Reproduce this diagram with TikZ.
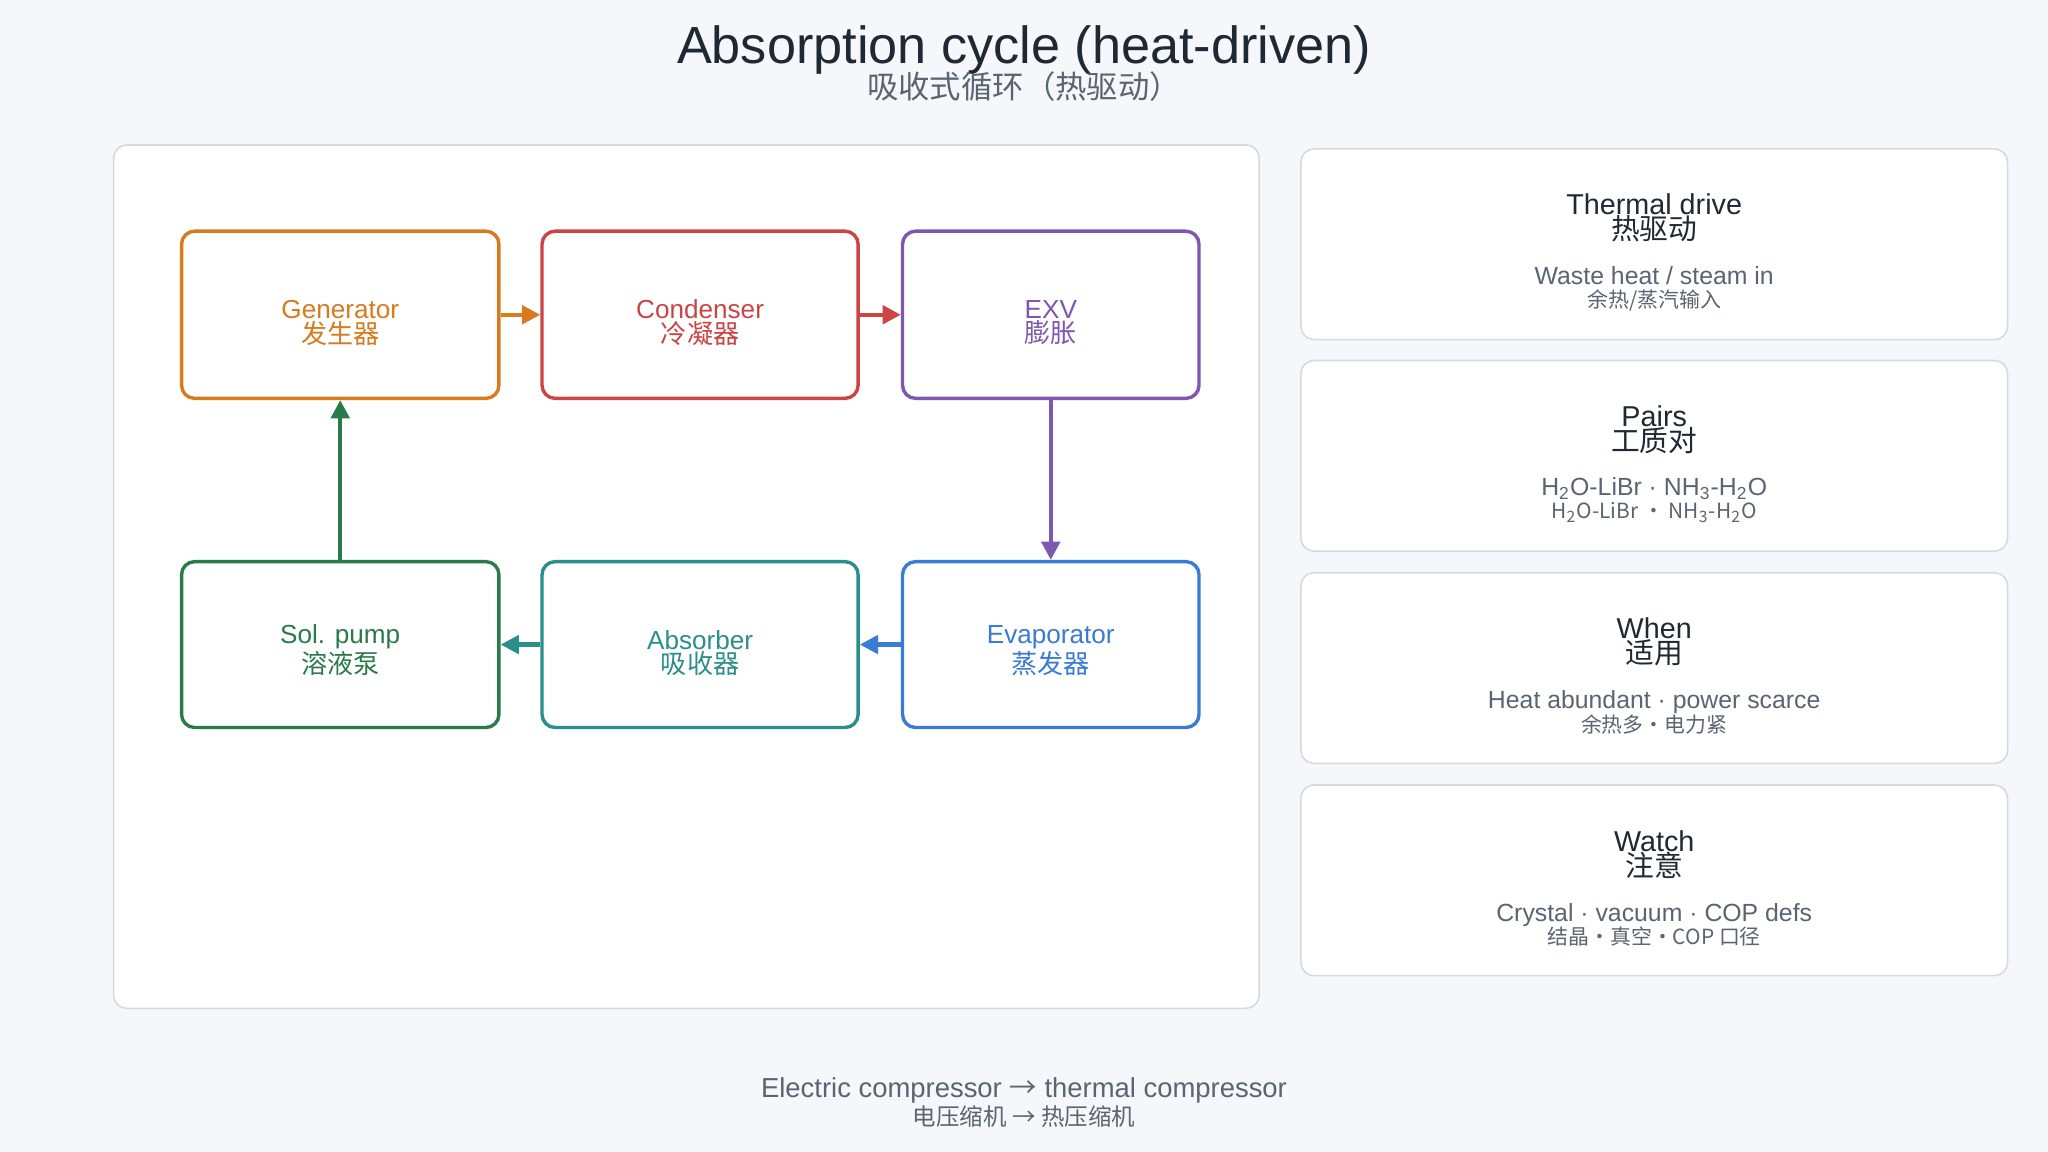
\documentclass[tikz,border=0pt]{standalone}
\usepackage{fontspec}
\setmainfont{Liberation Sans}
\newfontfamily\cjk{Noto Sans CJK SC}
\usetikzlibrary{arrows.meta}
\definecolor{bg}{HTML}{F5F7FA}
\definecolor{bd}{HTML}{D5DAE1}
\definecolor{ink}{HTML}{1F2933}
\definecolor{gr}{HTML}{5A6472}
\definecolor{cO}{HTML}{D97A1F}
\definecolor{cR}{HTML}{CC4444}
\definecolor{cP}{HTML}{7E57B0}
\definecolor{cG}{HTML}{2A7A4A}
\definecolor{cT}{HTML}{2A8F8A}
\definecolor{cB}{HTML}{3A7BD5}
\tikzset{
 box/.style={draw=#1,line width=1.3pt,rounded corners=5pt,fill=white},
 lbl/.style={text=#1,align=center,font=\fontsize{10}{9.5}\selectfont},
 card/.style={draw=bd,line width=0.6pt,rounded corners=5pt,fill=white},
 arr/.style={draw=#1,line width=1.6pt,-{Triangle[length=7pt,width=7pt]}},
}
\begin{document}
\begin{tikzpicture}[x=0.5pt,y=-0.5pt]
\path[fill=bg] (0,0) rectangle (1568,882);
\useasboundingbox (0,0) rectangle (1568,882);
\node[text=ink,font=\fontsize{20}{22}\selectfont] (t) at (784,38) {Absorption cycle (heat-driven)};
\node[text=gr,font=\cjk\fontsize{12}{14}\selectfont] (ts) at (784,66) {吸收式循环（热驱动）};
\node[card,minimum width=438.5pt,minimum height=330.5pt] (panel) at (525.5,441.5) {};
% boxes
\node[box=cO,minimum width=121.5pt,minimum height=64pt] (gen) at (260.5,241) {};
\node[box=cR,minimum width=121pt,minimum height=64pt] (con) at (536,241) {};
\node[box=cP,minimum width=113.5pt,minimum height=64pt] (exv) at (804.5,241) {};
\node[box=cG,minimum width=121.5pt,minimum height=63.5pt] (pump) at (260.5,493.5) {};
\node[box=cT,minimum width=121pt,minimum height=63.5pt] (abs) at (536,493.5) {};
\node[box=cB,minimum width=113.5pt,minimum height=63.5pt] (eva) at (804.5,493.5) {};
\node[lbl=cO] (genl) at (260.5,247) {Generator\\{\cjk 发生器}};
\node[lbl=cR] (conl) at (536,247) {Condenser\\{\cjk 冷凝器}};
\node[lbl=cP] (exvl) at (804.5,247) {EXV\\{\cjk 膨胀}};
\node[lbl=cG] (pumpl) at (260.5,498) {Sol. pump\\{\cjk 溶液泵}};
\node[lbl=cT] (absl) at (536,500) {Absorber\\{\cjk 吸收器}};
\node[lbl=cB] (eval) at (804.5,498) {Evaporator\\{\cjk 蒸发器}};
\draw[arr=cO] (gen) -- (con);
\draw[arr=cR] (con) -- (exv);
\draw[arr=cP] (exv) -- (eva);
\draw[arr=cB] (eva) -- (abs);
\draw[arr=cT] (abs) -- (pump);
\draw[arr=cG] (pump) -- (gen);
% cards
\foreach \n/\y/\a/\b/\c/\d in {
 c1/187/{Thermal drive}/{热驱动}/{Waste heat / steam in}/{余热/蒸汽输入},
 c2/349/{Pairs}/{工质对}/{H\textsubscript{2}O-LiBr · NH\textsubscript{3}-H\textsubscript{2}O}/{H\textsubscript{2}O-LiBr · NH\textsubscript{3}-H\textsubscript{2}O},
 c3/511.5/{When}/{适用}/{Heat abundant · power scarce}/{余热多·电力紧},
 c4/674/{Watch}/{注意}/{Crystal · vacuum · COP defs}/{结晶·真空·COP 口径}}{
 \node[card,minimum width=270.5pt,minimum height=73pt] (\n) at (1266.5,\y) {};
 \node[text=ink,align=center,font=\fontsize{11}{9.5}\selectfont] (\n t) at (1266.5,\y-20) {\a\\{\cjk \b}};
 \node[text=gr,align=center,font=\fontsize{9.5}{9}\selectfont] (\n s) at (1266.5,\y+34) {\c\\{\cjk\fontsize{8}{9}\selectfont \d}};
}
\node[text=gr,align=center,font=\fontsize{10.5}{10.5}\selectfont] (foot) at (784,844) {Electric compressor {\cjk →} thermal compressor\\{\cjk\fontsize{9}{9}\selectfont 电压缩机 → 热压缩机}};
\end{tikzpicture}
\end{document}
